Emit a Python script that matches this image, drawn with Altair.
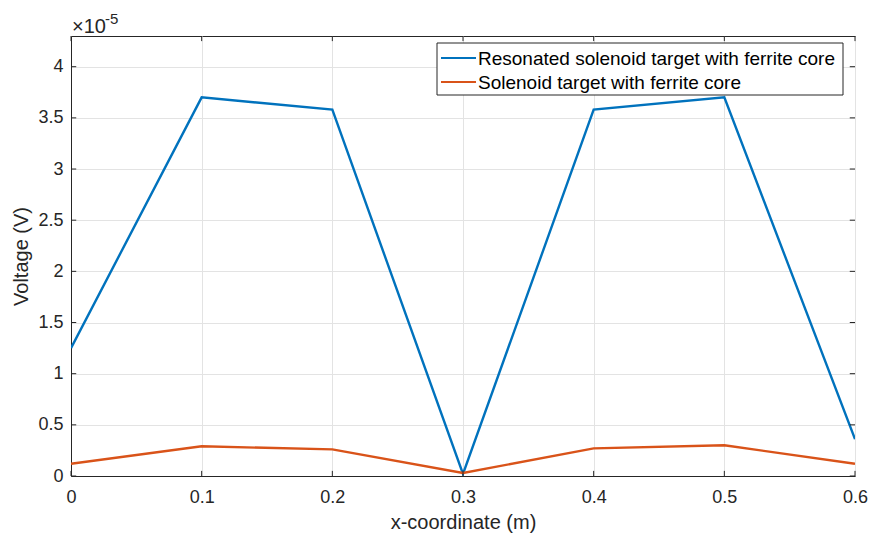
import altair as alt
import pandas as pd

x_vals = [0.0, 0.1, 0.2, 0.3, 0.4, 0.5, 0.6]
resonated = [1.25, 3.70, 3.58, 0.02, 3.58, 3.70, 0.36]   # x 1e-5 V
plain = [0.12, 0.29, 0.26, 0.03, 0.27, 0.30, 0.12]       # x 1e-5 V
series_names = ["Resonated solenoid target with ferrite core", "Solenoid target with ferrite core"]
colors = ["#0072BD", "#D95319"]
x_ticks = [0, 0.1, 0.2, 0.3, 0.4, 0.5, 0.6]
y_ticks = [0, 0.5, 1, 1.5, 2, 2.5, 3, 3.5, 4]

rows = []
for xv, a, b in zip(x_vals, resonated, plain):
    rows.append({"x": xv, "v": a, "series": series_names[0]})
    rows.append({"x": xv, "v": b, "series": series_names[1]})
df = pd.DataFrame(rows)

FONT = "Liberation Sans"
xs = alt.Scale(domain=[0, 0.6], nice=False, zero=False)
ys = alt.Scale(domain=[0, 4.3], nice=False)

lines = alt.Chart(df).mark_line(strokeWidth=2.4, clip=True).encode(
    x=alt.X("x:Q", scale=xs,
            axis=alt.Axis(values=x_ticks, title="x-coordinate (m)", format="~g",
                          ticks=False, labelPadding=12, titlePadding=6,
                          labelFlush=False)),
    y=alt.Y("v:Q", scale=ys,
            axis=alt.Axis(values=y_ticks, title="Voltage (V)", format="~g",
                          ticks=False, labelPadding=8, titlePadding=6,
                          labelFlush=False)),
    color=alt.Color("series:N",
                    scale=alt.Scale(domain=series_names, range=colors),
                    legend=None),
)

tick_df = pd.DataFrame({"t": x_ticks})
xt_bottom = alt.Chart(tick_df).mark_rule(color="#262626", strokeWidth=1).encode(
    x=alt.X("t:Q", scale=xs), y=alt.datum(0), y2=alt.datum(0.05))
xt_top = alt.Chart(tick_df).mark_rule(color="#262626", strokeWidth=1).encode(
    x=alt.X("t:Q", scale=xs), y=alt.datum(4.3), y2=alt.datum(4.25))
ytick_df = pd.DataFrame({"t": y_ticks})
yt_left = alt.Chart(ytick_df).mark_rule(color="#262626", strokeWidth=1).encode(
    y=alt.Y("t:Q", scale=ys), x=alt.datum(0), x2=alt.datum(0.004))
yt_right = alt.Chart(ytick_df).mark_rule(color="#262626", strokeWidth=1).encode(
    y=alt.Y("t:Q", scale=ys), x=alt.datum(0.6), x2=alt.datum(0.596))

exp_base = alt.Chart(pd.DataFrame({"s": ["\u00d710"]})).mark_text(
    align="left", baseline="alphabetic", font=FONT, fontSize=20, color="#262626"
).encode(x=alt.value(1), y=alt.value(-3), text="s:N")
exp_pow = alt.Chart(pd.DataFrame({"s": ["-5"]})).mark_text(
    align="left", baseline="alphabetic", font=FONT, fontSize=15, color="#262626"
).encode(x=alt.value(34), y=alt.value(-12), text="s:N")

# Manual MATLAB-style legend (opaque box, long line samples)
one = pd.DataFrame({"k": [0]})
legend_layers = [
    alt.Chart(one).mark_rect(fill="white", stroke="#262626", strokeWidth=1).encode(
        x=alt.value(366), x2=alt.value(772), y=alt.value(7), y2=alt.value(59))
]
for i, (name, col) in enumerate(zip(series_names, colors)):
    yy = 22 + 24 * i
    legend_layers.append(
        alt.Chart(one).mark_rule(color=col, strokeWidth=2).encode(
            x=alt.value(370), x2=alt.value(405), y=alt.value(yy)))
    legend_layers.append(
        alt.Chart(pd.DataFrame({"s": [name]})).mark_text(
            align="left", baseline="middle", font=FONT, fontSize=19, color="#000000"
        ).encode(x=alt.value(407), y=alt.value(yy + 1), text="s:N"))

chart = alt.layer(lines, xt_bottom, xt_top, yt_left, yt_right, exp_base, exp_pow,
                  *legend_layers).properties(
    width=784, height=440,
    autosize=alt.AutoSizeParams(type="none"),
    padding={"left": 71, "top": 36, "right": 17, "bottom": 57},
    background="white",
).configure_view(
    stroke="#262626", strokeWidth=1
).configure_axis(
    grid=True, gridColor="#e3e3e3", gridWidth=1,
    domainColor="#262626", labelFont=FONT, labelFontSize=18, labelColor="#262626",
    titleFont=FONT, titleFontSize=20, titleColor="#262626", titleFontWeight="normal",
)

chart.save("out.html", embed_options={"renderer": "svg", "actions": False})
